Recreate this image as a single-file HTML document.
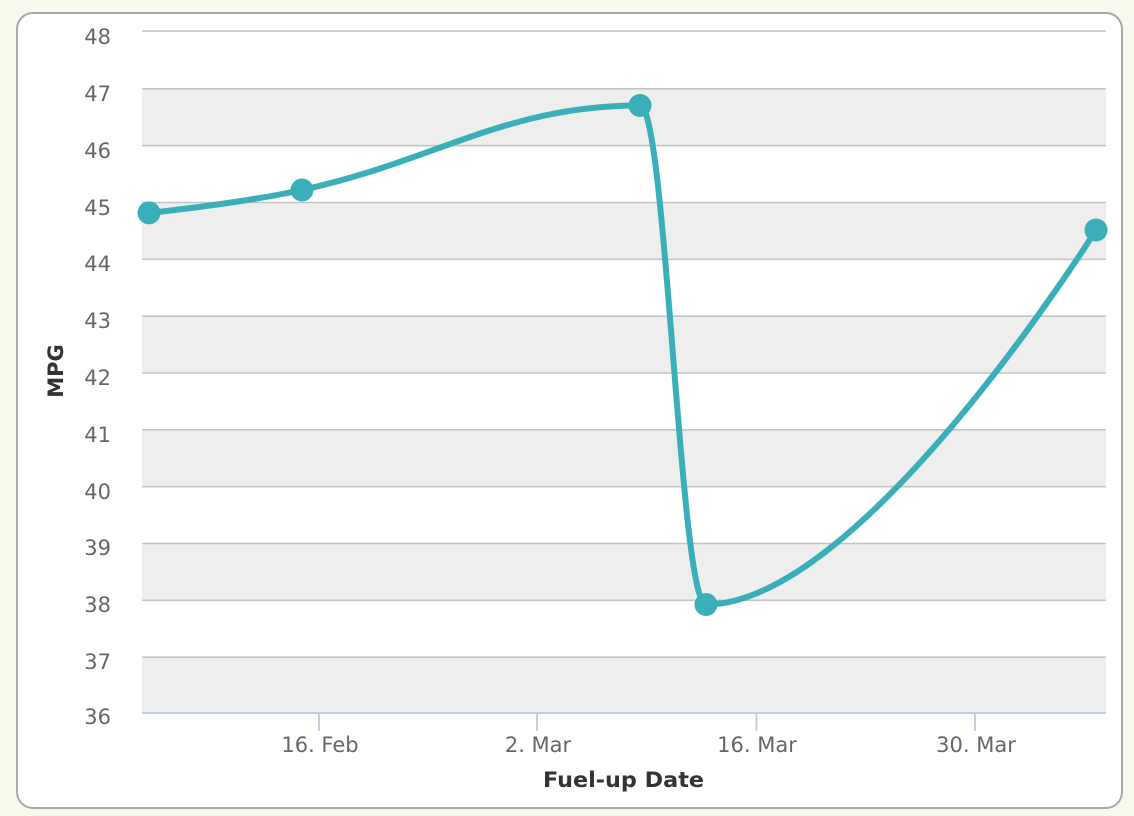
<!DOCTYPE html>
<html>
<head>
<meta charset="utf-8">
<style>
  html, body { margin: 0; padding: 0; }
  body { width: 1134px; height: 816px; background: #f8f8ec; position: relative; overflow: hidden; }
  .card { position: absolute; left: 16px; top: 12px; width: 1107px; height: 797px; box-sizing: border-box; border: 2px solid #a9a9a9; border-radius: 17px; background: #ffffff; }
  svg { position: absolute; left: 0; top: 0; }
  text { font-family: "DejaVu Sans", "Liberation Sans", sans-serif; }
</style>
</head>
<body>
<div class="card"></div>
<svg width="1134" height="816" viewBox="0 0 1134 816" xmlns="http://www.w3.org/2000/svg">
  <g fill="#eeeeee">
    <rect x="142" y="88.8" width="964" height="56.8"/>
    <rect x="142" y="202.5" width="964" height="56.8"/>
    <rect x="142" y="316.2" width="964" height="56.8"/>
    <rect x="142" y="429.8" width="964" height="56.8"/>
    <rect x="142" y="543.5" width="964" height="56.8"/>
    <rect x="142" y="657.2" width="964" height="56.8"/>
  </g>
  <g stroke="#c4c4c4" stroke-width="1.6">
    <line x1="142" x2="1106" y1="31" y2="31"/>
    <line x1="142" x2="1106" y1="88.8" y2="88.8"/>
    <line x1="142" x2="1106" y1="145.7" y2="145.7"/>
    <line x1="142" x2="1106" y1="202.5" y2="202.5"/>
    <line x1="142" x2="1106" y1="259.3" y2="259.3"/>
    <line x1="142" x2="1106" y1="316.2" y2="316.2"/>
    <line x1="142" x2="1106" y1="373" y2="373"/>
    <line x1="142" x2="1106" y1="429.8" y2="429.8"/>
    <line x1="142" x2="1106" y1="486.7" y2="486.7"/>
    <line x1="142" x2="1106" y1="543.5" y2="543.5"/>
    <line x1="142" x2="1106" y1="600.3" y2="600.3"/>
    <line x1="142" x2="1106" y1="657.2" y2="657.2"/>
  </g>
  <g stroke="#c0d0e0" stroke-width="2">
    <line x1="142" x2="1106" y1="713" y2="713"/>
    <line x1="319" x2="319" y1="713" y2="731"/>
    <line x1="537" x2="537" y1="713" y2="731"/>
    <line x1="756.5" x2="756.5" y1="713" y2="731"/>
    <line x1="975" x2="975" y1="713" y2="731"/>
  </g>
  <g fill="#666666" font-size="21" text-anchor="end">
    <text x="111" y="44">48</text>
    <text x="111" y="101">47</text>
    <text x="111" y="158">46</text>
    <text x="111" y="215">45</text>
    <text x="111" y="271">44</text>
    <text x="111" y="328">43</text>
    <text x="111" y="385">42</text>
    <text x="111" y="442">41</text>
    <text x="111" y="499">40</text>
    <text x="111" y="555">39</text>
    <text x="111" y="612">38</text>
    <text x="111" y="669">37</text>
    <text x="111" y="724">36</text>
  </g>
  <g fill="#666666" font-size="21" text-anchor="middle">
    <text x="320" y="752">16. Feb</text>
    <text x="538" y="752">2. Mar</text>
    <text x="757" y="752">16. Mar</text>
    <text x="976" y="752">30. Mar</text>
  </g>
  <text x="623.5" y="787" font-size="21.5" font-weight="bold" fill="#333333" text-anchor="middle" textLength="161" lengthAdjust="spacingAndGlyphs">Fuel-up Date</text>
  <text x="0" y="0" font-size="21" font-weight="bold" fill="#333333" text-anchor="middle" transform="translate(63,371) rotate(-90)">MPG</text>
  <path d="M 149 212.9 C 149 212.9, 240.8 203.39, 302 190 C 437.2 160.43, 504.8 105.5, 640 105.5 C 666.4 105.5, 679.6 604.5, 706 604.5 C 862 604.5, 1096 230, 1096 230"
        fill="none" stroke="#3aafb9" stroke-width="6" stroke-linejoin="round" stroke-linecap="round"/>
  <g fill="#3aafb9">
    <circle cx="149" cy="212.9" r="11.5"/>
    <circle cx="302" cy="190" r="11.5"/>
    <circle cx="640" cy="105.5" r="11.5"/>
    <circle cx="706" cy="604.5" r="11.5"/>
    <circle cx="1096" cy="230" r="11.5"/>
  </g>
</svg>
</body>
</html>
